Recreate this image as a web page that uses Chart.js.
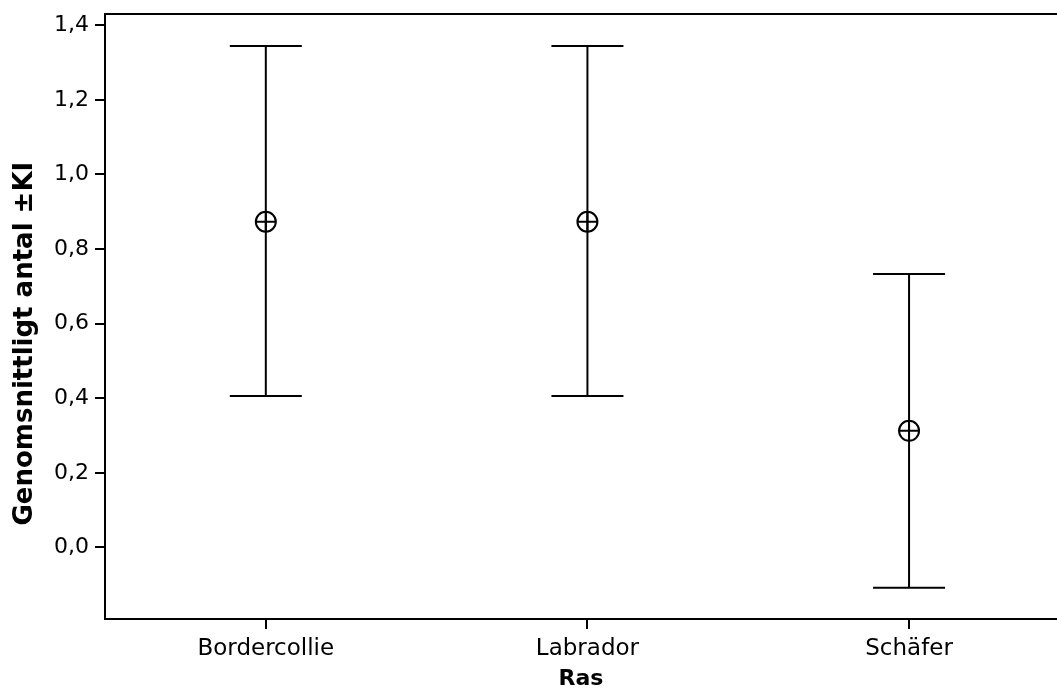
<!DOCTYPE html>
<html>
<head>
<meta charset="utf-8">
<script src="https://cdn.jsdelivr.net/npm/chart.js@4.4.1/dist/chart.umd.min.js"></script>
<style>
    html, body { margin: 0; padding: 0; background: #fff; overflow: hidden; }
    canvas { display: block; }
</style>
</head>
<body>
<canvas id="ciChart" width="1057" height="692"></canvas>
<script>
// Data
const breeds = ['Bordercollie', 'Labrador', 'Schäfer'];
const means = [0.873, 0.873, 0.3125];
const lowerCI = [0.406, 0.406, -0.108];
const upperCI = [1.344, 1.344, 0.733];
const yTicks = [0, 0.2, 0.4, 0.6, 0.8, 1.0, 1.2, 1.4];

const FONT = 'DejaVu Sans';

// Error bars (whiskers + caps) drawn from the scales
const errorBars = {
    id: 'errorBars',
    afterDatasetsDraw(chart) {
        const { ctx, scales: { x, y } } = chart;
        ctx.save();
        ctx.strokeStyle = '#000';
        ctx.lineWidth = 2;
        breeds.forEach((b, i) => {
            const px = x.getPixelForValue(i);
            const top = y.getPixelForValue(upperCI[i]);
            const bot = y.getPixelForValue(lowerCI[i]);
            const cap = 36;
            ctx.beginPath();
            ctx.moveTo(px, top); ctx.lineTo(px, bot);
            ctx.moveTo(px - cap, top); ctx.lineTo(px + cap, top);
            ctx.moveTo(px - cap, bot); ctx.lineTo(px + cap, bot);
            ctx.stroke();
        });
        ctx.restore();
    }
};

// Top frame line
const topFrame = {
    id: 'topFrame',
    afterDraw(chart) {
        const { ctx, chartArea } = chart;
        ctx.save();
        ctx.strokeStyle = '#000';
        ctx.lineWidth = 2;
        ctx.beginPath();
        ctx.moveTo(chartArea.left, chartArea.top);
        ctx.lineTo(chartArea.right + 2, chartArea.top);
        ctx.stroke();
        ctx.restore();
    }
};

const noPad = scale => {
    scale.paddingTop = 0; scale.paddingBottom = 0;
    scale.paddingLeft = 0; scale.paddingRight = 0;
};

const points = means.map((m, i) => ({ x: i, y: m }));

new Chart(document.getElementById('ciChart'), {
    type: 'scatter',
    data: {
        datasets: [
            {
                data: points,
                pointStyle: 'circle',
                pointRadius: 10,
                backgroundColor: '#fff',
                borderColor: '#000',
                borderWidth: 2,
                order: 1
            },
            {
                data: points,
                pointStyle: 'cross',
                pointRadius: 10,
                borderColor: '#000',
                borderWidth: 2,
                order: 0
            }
        ]
    },
    plugins: [errorBars, topFrame],
    options: {
        responsive: false,
        devicePixelRatio: 1,
        animation: false,
        layout: { autoPadding: false, padding: { top: 14, right: 0, left: 10, bottom: 0 } },
        plugins: {
            legend: { display: false },
            tooltip: { enabled: false }
        },
        scales: {
            x: {
                type: 'linear',
                min: -0.5,
                max: 2.46,
                afterBuildTicks: scale => { scale.ticks = breeds.map((b, i) => ({ value: i })); },
                afterFit: scale => { scale.height = 73; noPad(scale); },
                ticks: {
                    callback: v => breeds[v],
                    color: '#000',
                    font: { family: FONT, size: 23 },
                    padding: 6,
                    maxRotation: 0
                },
                grid: { drawOnChartArea: false, color: '#000', lineWidth: 2, tickLength: 10 },
                border: { color: '#000', width: 2 },
                title: {
                    display: true,
                    text: 'Ras',
                    color: '#000',
                    font: { family: FONT, size: 22, weight: 'bold' },
                    padding: { top: 0, bottom: 0 }
                }
            },
            y: {
                min: -0.192,
                max: 1.43,
                afterBuildTicks: scale => { scale.ticks = yTicks.map(v => ({ value: v })); },
                afterFit: scale => { scale.width = 95; noPad(scale); },
                ticks: {
                    callback: v => v.toFixed(1).replace('.', ','),
                    color: '#000',
                    font: { family: FONT, size: 22 },
                    padding: 6
                },
                grid: { drawOnChartArea: false, color: '#000', lineWidth: 2, tickLength: 10 },
                border: { color: '#000', width: 2 },
                title: {
                    display: true,
                    text: 'Genomsnittligt antal ±KI      ',
                    color: '#000',
                    font: { family: FONT, size: 26, weight: 'bold' },
                    padding: { top: 0, bottom: 0 }
                }
            }
        }
    }
});
</script>
</body>
</html>
